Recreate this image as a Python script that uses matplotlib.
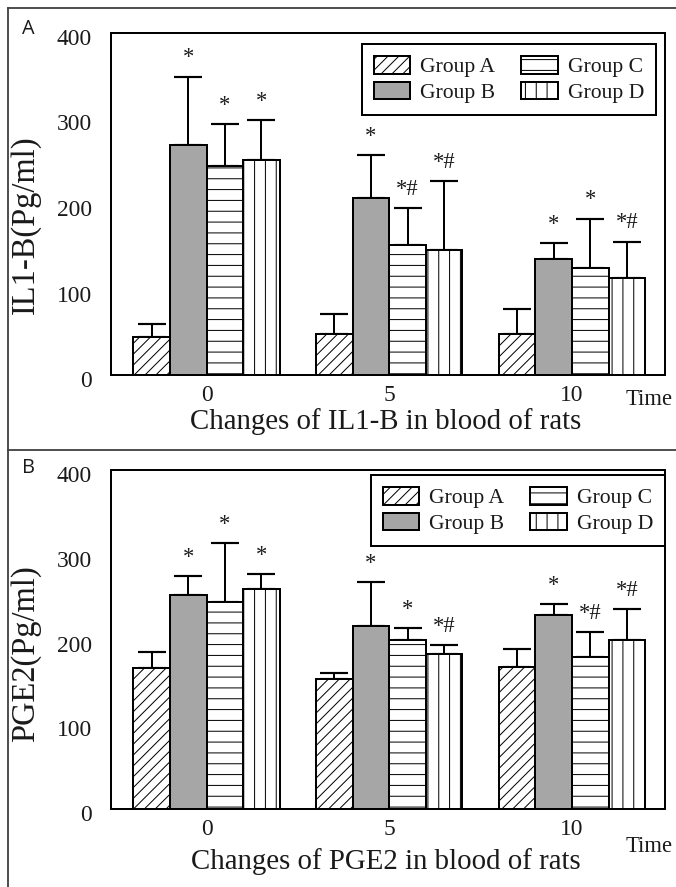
import numpy as np
import matplotlib
matplotlib.use("Agg")
import matplotlib.pyplot as plt
from matplotlib.transforms import ScaledTranslation
from matplotlib.lines import Line2D

# ---------------- data ----------------
time_points = ["0", "5", "10"]
series = ["Group A", "Group B", "Group C", "Group D"]

il1b_A = [44, 48, 48]
il1b_B = [269, 207, 136]
il1b_C = [244, 152, 125]
il1b_D = [252, 146, 114]
il1b_err_A = [16, 23, 29]
il1b_err_B = [80, 50, 18]
il1b_err_C = [49, 43, 58]
il1b_err_D = [46, 81, 42]
il1b_mark_A = ["", "", ""]
il1b_mark_B = ["*", "*", "*"]
il1b_mark_C = ["*", "*#", "*"]
il1b_mark_D = ["*", "*#", "*#"]

pge2_A = [166, 153, 167]
pge2_B = [253, 216, 229]
pge2_C = [244, 200, 179]
pge2_D = [260, 183, 200]
pge2_err_A = [19, 7, 22]
pge2_err_B = [22, 52, 13]
pge2_err_C = [70, 13, 30]
pge2_err_D = [17, 10, 36]
pge2_mark_A = ["", "", ""]
pge2_mark_B = ["*", "*", "*"]
pge2_mark_C = ["*", "*", "*#"]
pge2_mark_D = ["*", "*#", "*#"]

y_ticks = [0, 100, 200, 300, 400]

# ---------------- style ----------------
W, H, DPI = 676, 887, 130
plt.rcParams['font.family'] = ['Liberation Serif', 'DejaVu Serif']
plt.rcParams['hatch.linewidth'] = 0.55
TXT = '#1a1a1a'

fills = ['white', '#a6a6a6', 'white', 'white']
hatches = ['////', '', '--', '||']

fig = plt.figure(figsize=(W / DPI, H / DPI), dpi=DPI)


def px2pt(p):
    return p * 72.0 / DPI


def draw_panel(rect, means, errs, marks, ylabel, xlabel, ylab_y, xlab_y, legend_anchor):
    ax = fig.add_axes(rect)
    x = np.arange(len(time_points))
    bw = 0.2
    handles = []
    for i, name in enumerate(series):
        xs = x + (i - 1.5) * bw
        b = ax.bar(xs, means[i], width=bw, color=fills[i], edgecolor='black',
                   hatch=hatches[i], linewidth=1.1, label=name, zorder=3)
        handles.append(b)
        ax.errorbar(xs, means[i], yerr=[np.zeros(len(xs)), errs[i]], fmt='none',
                    ecolor='black', elinewidth=1.1, capsize=px2pt(14), capthick=1.2,
                    zorder=2)
        for xx, m, e, t in zip(xs, means[i], errs[i], marks[i]):
            if t:
                ax.text(xx, m + e + 22, t, ha='center', va='center',
                        fontsize=12.5, color=TXT, zorder=4)
    ax.set_xlim(-0.523, 2.509)
    ax.set_ylim(0, 400)
    ax.set_yticks(y_ticks)
    ax.set_xticks(x)
    ax.set_xticklabels(time_points)
    ax.tick_params(axis='both', length=0, labelsize=13, colors=TXT)
    ax.tick_params(axis='y', pad=px2pt(19))
    ax.tick_params(axis='x', pad=px2pt(10))
    off = ScaledTranslation(0, -4 / DPI, fig.dpi_scale_trans)
    for lbl in ax.get_yticklabels():
        lbl.set_transform(lbl.get_transform() + off)
    for s in ax.spines.values():
        s.set_linewidth(1.1)
        s.set_color('black')
    ax.set_ylabel(ylabel, fontsize=18, color=TXT)
    ax.yaxis.set_label_coords(-0.126, ylab_y)
    ax.set_xlabel(xlabel, fontsize=16, color=TXT, va='center')
    ax.xaxis.set_label_coords(0.496, xlab_y)
    leg = ax.legend(handles=handles, ncol=2, loc='upper right',
                    bbox_to_anchor=legend_anchor, bbox_transform=fig.transFigure,
                    borderaxespad=0, fancybox=False, shadow=False, framealpha=1,
                    edgecolor='black', fontsize=12, handlelength=1.7,
                    handleheight=0.875, handletextpad=0.45, columnspacing=1.2,
                    labelspacing=0.2, borderpad=0.55)
    leg.get_frame().set_linewidth(1.1)
    for t in leg.get_texts():
        t.set_color(TXT)
    return ax


axA = draw_panel([111 / W, 1 - 375 / H, 554 / W, 342 / H],
                 [il1b_A, il1b_B, il1b_C, il1b_D],
                 [il1b_err_A, il1b_err_B, il1b_err_C, il1b_err_D],
                 [il1b_mark_A, il1b_mark_B, il1b_mark_C, il1b_mark_D],
                 "IL1-B(Pg/ml)", "Changes of IL1-B in blood of rats",
                 0.44, -0.137, (656 / W, 1 - 44 / H))

axB = draw_panel([111 / W, 1 - 809 / H, 554 / W, 339 / H],
                 [pge2_A, pge2_B, pge2_C, pge2_D],
                 [pge2_err_A, pge2_err_B, pge2_err_C, pge2_err_D],
                 [pge2_mark_A, pge2_mark_B, pge2_mark_C, pge2_mark_D],
                 "PGE2(Pg/ml)", "Changes of PGE2 in blood of rats",
                 0.457, -0.156, (665 / W, 1 - 475 / H))

# "Time" axis captions
fig.text(673 / W, 1 - 400 / H, "Time", ha='right', va='center', fontsize=12.5, color=TXT)
fig.text(673 / W, 1 - 846 / H, "Time", ha='right', va='center', fontsize=12.5, color=TXT)

# panel letters
fig.text(28 / W, 1 - 29 / H, "A", ha='center', va='center', fontsize=11,
         family=['Open Sans', 'DejaVu Sans'], color=TXT)
fig.text(28 / W, 1 - 468 / H, "B", ha='center', va='center', fontsize=11,
         family=['Open Sans', 'DejaVu Sans'], color=TXT)

# outer frame and divider
frame_kw = dict(color='#404040', linewidth=1.0, transform=fig.transFigure)
fig.add_artist(Line2D([8 / W, 8 / W], [0, 1 - 8 / H], **frame_kw))
fig.add_artist(Line2D([8 / W, 1], [1 - 8 / H, 1 - 8 / H], **frame_kw))
fig.add_artist(Line2D([8 / W, 1], [1 - 450 / H, 1 - 450 / H], **frame_kw))

fig.savefig("out.png", dpi=DPI)
